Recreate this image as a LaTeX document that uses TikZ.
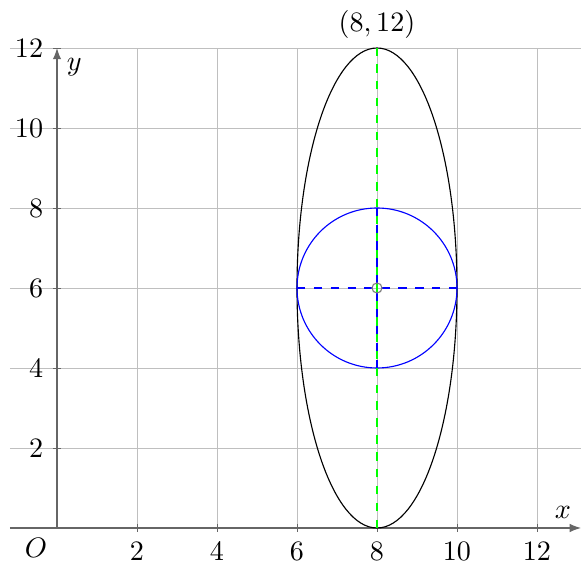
\documentclass[tikz,border=0pt]{standalone}
\usetikzlibrary{arrows.meta}
\begin{document}
\begin{tikzpicture}[scale=0.5,
    gridline/.style={very thin,black!25},
    axis/.style={thin,black!60,-{Latex[length=4pt,width=3pt]}},
    tickmark/.style={very thin,black!60}]
    \useasboundingbox (-1.425,-0.825) rectangle (13.1,13.2);
    \coordinate (O) at (0,0);   \coordinate (C) at (8,6);
    \coordinate (T) at (8,12);  \coordinate (B) at (8,0);
    \coordinate (L) at (6,6);   \coordinate (R) at (10,6);
    \coordinate (Ct) at (8,8);  \coordinate (Cb) at (8,4);
    \coordinate (Xs) at (-1.175,0); \coordinate (Xe) at (13.1,0);
    \coordinate (Ye) at (0,12);
    % grid
    \foreach \k in {2,4,...,12} {
      \draw[gridline] (-1.175,\k) -- (13.1,\k);
      \draw[gridline] (\k,0) -- (\k,12);
    }
    % axes
    \draw[axis] (Xs) -- (Xe);
    \draw[axis] (O) -- (Ye);
    \foreach \k in {2,4,...,12} {
      \draw[tickmark] (\k,-0.1) -- (\k,0.1);
      \draw[tickmark] (-0.1,\k) -- (0.1,\k);
      \node[below] (xl\k) at (\k,-0.1) {$\k$};
      \node[left] (yl\k) at (-0.1,\k) {$\k$};
    }
    \node[below left] (o) at (O) {$O$};
    \node[above left] (xlab) at (Xe) {$x$};
    \node[below right] (ylab) at (Ye) {$y$};
    % shapes
    \draw (C) ellipse [x radius=2, y radius=6];
    \draw[blue] (C) circle [radius=2];
    \draw[green,dashed] (B) -- (T);
    \draw[blue,dashed] (Cb) -- (Ct);
    \draw[blue,dashed] (L) -- (R);
    \draw[black!50] (C) circle [radius=0.125];
    \node[above] (top) at (T) {$(8,12)$};
\end{tikzpicture}
\end{document}
